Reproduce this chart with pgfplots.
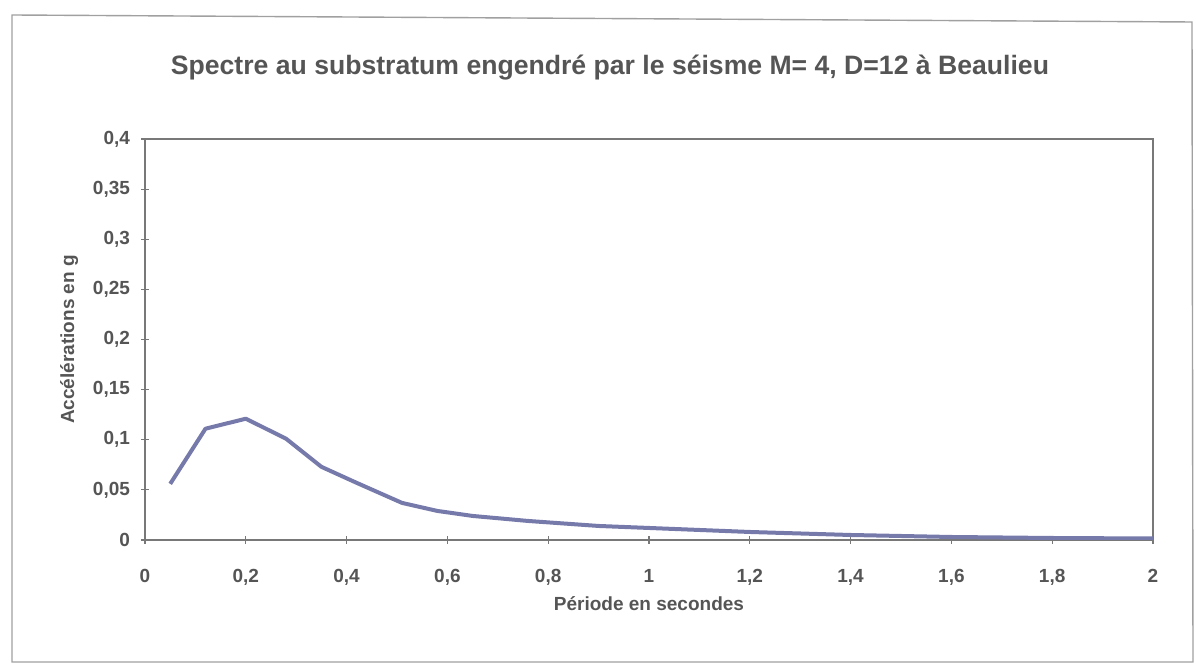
\documentclass[border=0pt]{standalone}
\usepackage{pgfplots}
\pgfplotsset{compat=1.18}
\usepackage{fontspec}
\setmainfont{Liberation Sans}
\definecolor{txt}{RGB}{85,85,85}
\definecolor{ln}{RGB}{118,122,170}
\definecolor{ax}{RGB}{120,120,120}
\begin{document}
\begin{tikzpicture}
\path[use as bounding box] (0pt,0pt) rectangle (598pt,-333.5pt);
\draw[ax!70,line width=0.7pt] (6pt,-7.5pt) -- (596pt,-11pt) -- (596.5pt,-331pt) -- (6pt,-331pt) -- cycle;
\node[text=txt,font=\fontsize{13.3}{16}\selectfont\bfseries] at (305pt,-34pt) {Spectre au substratum engendré par le séisme M= 4, D=12 à Beaulieu};
\begin{axis}[
  at={(72.5pt,-270pt)}, anchor=south west,
  scale only axis, width=504pt, height=200.5pt,
  xmin=0, xmax=2, ymin=0, ymax=0.4,
  xtick={0,0.2,0.4,0.6,0.8,1,1.2,1.4,1.6,1.8,2},
  xticklabels={0,{0,2},{0,4},{0,6},{0,8},1,{1,2},{1,4},{1,6},{1,8},2},
  ytick={0,0.05,0.1,0.15,0.2,0.25,0.3,0.35,0.4},
  yticklabels={0,{0,05},{0,1},{0,15},{0,2},{0,25},{0,3},{0,35},{0,4}},
  axis line style={ax, line width=0.8pt},
  tick style={ax, line width=0.6pt}, tick align=center, major tick length=4pt,
  xtick pos=bottom, ytick pos=left,
  ticklabel style={text=txt, font=\fontsize{9.5}{11}\selectfont\bfseries},
  xticklabel style={yshift=-9pt},
  yticklabel style={xshift=-2pt},
  xlabel={Période en secondes}, ylabel={Accélérations en g},
  label style={text=txt, font=\fontsize{9.5}{11}\selectfont\bfseries},
  xlabel style={yshift=1pt},
  ylabel style={yshift=0.5pt},
]
\addplot[ln, line width=2pt, line join=round] coordinates {
(0.05,0.056) (0.12,0.111) (0.2,0.121) (0.28,0.101) (0.35,0.073) (0.42,0.057)
(0.51,0.037) (0.58,0.029) (0.65,0.024) (0.76,0.019) (0.9,0.014) (1.0,0.012)
(1.2,0.008) (1.4,0.005) (1.6,0.003) (1.8,0.002) (2.0,0.0015)
};
\end{axis}
\end{tikzpicture}
\end{document}
